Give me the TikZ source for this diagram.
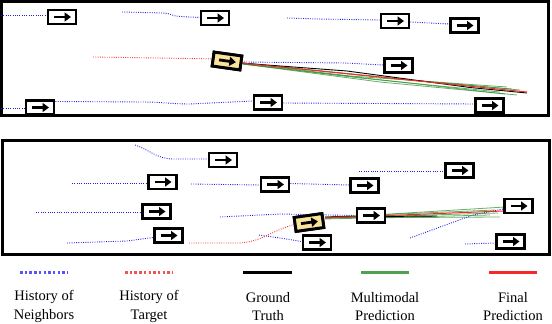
\documentclass[tikz,border=0pt]{standalone}
\usepackage{fontspec}
\setmainfont{Liberation Serif}
\usetikzlibrary{arrows.meta,calc}
\definecolor{nbblue}{RGB}{30,30,235}
\definecolor{tgred}{RGB}{240,50,50}
\definecolor{mmgreen}{RGB}{40,140,40}
\definecolor{finred}{RGB}{245,40,40}
\definecolor{carfill}{RGB}{250,226,155}
\definecolor{legblue}{RGB}{85,85,255}
\definecolor{legred}{RGB}{240,85,85}
\definecolor{leggreen}{RGB}{80,160,80}
\begin{document}
\begin{tikzpicture}[x=1pt,y=-1pt,
 panel/.style={draw,line width=3pt},
 car/.style={draw,line width=2.9pt,fill=white,minimum width=28pt,minimum height=14pt,inner sep=0pt},
 target/.style={car,fill=carfill},
 nb/.style={nbblue,line width=0.9pt,dash pattern=on 0.9pt off 1.4pt},
 tg/.style={tgred,line width=0.9pt,dash pattern=on 0.9pt off 1.4pt},
 gt/.style={black,line width=0.9pt},
 mm/.style={mmgreen,line width=0.8pt,opacity=0.7},
 fin/.style={finred,line width=1pt},
 carrow/.style={line width=2.8pt,-{Triangle[length=6.5pt,width=9pt]}},
 legnb/.style={legblue,line width=3pt,dash pattern=on 2.5pt off 2.2pt},
 legtg/.style={legred,line width=3pt,dash pattern=on 2.5pt off 2.2pt},
 leggt/.style={black,line width=3pt},
 legmm/.style={leggreen,line width=3pt},
 legfin/.style={finred,line width=3pt},
 legtext/.style={font=\fontsize{14.5}{18.5}\selectfont,align=center,inner sep=0pt}
]
\useasboundingbox (0,0) rectangle (552,324);

% ---------------- top panel ----------------
\draw[panel] (1.3,1.5) rectangle (548.5,115.5);

\node[car] (c1) at (62,17) {};
\node[car] (c2) at (215,18) {};
\node[car] (c3) at (395,21) {};
\node[car] (c4) at (464.5,25.5) {};
\node[car] (c5) at (398.5,65.5) {};
\node[car] (c6) at (40,107.5) {};
\node[car] (c7) at (268,102.5) {};
\node[car] (c8) at (489.5,105.5) {};
\node[target,rotate=-8] (t1) at (227,61) {};

\coordinate (s1) at (1,15);
\coordinate (s2) at (122,12);
\coordinate (s3) at (287,18);
\coordinate (s6) at (1,108.5);
\coordinate (st1) at (93,57);
\coordinate (e1) at (527,93);
\coordinate (f1) at (527,92);

% trajectories (cars are re-drawn on top)
\draw[nb] (s1) -- ([yshift=2pt]c1.west);
\draw[nb] (s2) -- (163,13) to[out=0,in=180] (180,16.5) -- ([yshift=0.5pt]c2.west);
\draw[nb] (s3) -- (318,19) -- ([yshift=1pt]c3.west);
\draw[nb] ([yshift=-1pt]c3.east) -- ([yshift=1.5pt]c4.west);
\draw[nb] (244,62) -- (345,63) -- ([yshift=0.5pt]c5.west);
\draw[nb] (s6) -- ([yshift=-1pt]c6.west);
\draw[nb] ([yshift=6pt]c6.east) -- (143,102) to[out=0,in=180] (190,104) -- ([yshift=1.5pt]c7.west);
\draw[nb] ([yshift=-0.5pt]c7.east) -- ([yshift=1.5pt]c8.west);
\draw[tg] (st1) -- (t1.west);

\draw[mm] (243,63) -- (350,76) -- (507,87);
\draw[mm] (243,64) -- (380,82) -- (517,95);
\draw[mm] (243,63) -- (400,79) -- (520,90);
\draw[mm] (243,64) -- (360,78) -- (500,92);
\draw[mm] (243,63) -- (420,81) -- (512,89);
\draw[mm] (243,64) -- (330,74) -- (505,94);
\draw[gt] (t1.east) -- (347,71) -- (470,87.5) -- (e1);
\draw[fin] (t1.east) -- (f1);

% ---------------- bottom panel ----------------
\draw[panel] (2.5,140) rectangle (549.5,254.5);

\node[car] (bA) at (223,160) {};
\node[car] (bB) at (162.5,182) {};
\node[car] (bC) at (275,184.5) {};
\node[car] (bD) at (156.5,211.5) {};
\node[car] (bE) at (168.5,235.5) {};
\node[car] (bF) at (364.5,185.5) {};
\node[car] (bG) at (459.5,170.5) {};
\node[car] (bH) at (371,215.5) {};
\node[car] (bI) at (317,242.5) {};
\node[car] (bJ) at (518.5,206) {};
\node[car] (bK) at (510.5,241.5) {};
\node[target,rotate=8] (t2) at (309,222.5) {};

\coordinate (sA) at (135,145);
\coordinate (sB) at (72,183);
\coordinate (sC) at (191,184);
\coordinate (sG) at (359,171);
\coordinate (sD) at (36,212);
\coordinate (sH) at (220,217);
\coordinate (sE) at (67,243);
\coordinate (sI) at (259,235);
\coordinate (sJ) at (410,238);
\coordinate (sK) at (465,244);
\coordinate (st2) at (189,243);
\coordinate (e2) at (437,216);
\coordinate (f2) at (503,211);

\draw[nb] (sA) .. controls (150,150) and (155,158) .. (172,159) -- ([yshift=1pt]bA.west);
\draw[nb] (sB) -- ([yshift=-1pt]bB.west);
\draw[nb] (sC) -- ([yshift=-0.5pt]bC.west);
\draw[nb] ([yshift=1pt]bC.east) -- ([yshift=0.5pt]bF.west);
\draw[nb] (sG) -- ([yshift=-0.5pt]bG.west);
\draw[nb] (sD) -- ([yshift=-0.5pt]bD.west);
\draw[nb] (sH) -- (280,214) -- (bH.west);
\draw[nb] (sE) -- (127,241) -- ([yshift=-2pt]bE.west);
\draw[nb] (sI) -- (280,238) -- ([yshift=1pt]bI.west);
\draw[nb] (sJ) -- (473,215) -- ([yshift=-3pt]bJ.west);
\draw[nb] (sK) -- ([yshift=-1.5pt]bK.west);
\draw[tg] (st2) -- (237,243) to[out=0,in=195] (t2.west);

\draw[mm] (325,218) -- (505,207);
\draw[mm] (325,218) -- (500,217);
\draw[mm] (325,217) -- (495,210);
\draw[mm] (325,218) -- (498,213);
\draw[mm] (325,219) -- (490,215);
\draw[gt] (325,217) -- (e2);
\draw[fin] (325,218) -- (f2);

% redraw cars on top of trajectories
\foreach \n in {c1,c2,c3,c4,c5,c6,c7,c8,bA,bB,bC,bD,bE,bF,bG,bH,bI,bJ,bK}{
  \node[car,at=(\n.center)] {};
}
\node[target,rotate=-8,at=(t1.center)] {};
\node[target,rotate=8,at=(t2.center)] {};
\foreach \n in {c1,c2,c3,c4,c5,c6,c7,c8,bA,bB,bC,bD,bE,bF,bG,bH,bI,bJ,bK,t1,t2}{
  \draw[carrow] ($(\n.center)!8pt!(\n.west)$) -- ($(\n.center)!9pt!(\n.east)$);
}

% ---------------- legend ----------------
\coordinate (l1a) at (20,272);  \coordinate (l1b) at (68,272);
\coordinate (l2a) at (125,272); \coordinate (l2b) at (173,272);
\coordinate (l3a) at (243,272); \coordinate (l3b) at (292,272);
\coordinate (l4a) at (361,272); \coordinate (l4b) at (409,272);
\coordinate (l5a) at (489,272); \coordinate (l5b) at (537,272);
\draw[legnb] (l1a) -- (l1b);
\draw[legtg] (l2a) -- (l2b);
\draw[leggt] (l3a) -- (l3b);
\draw[legmm] (l4a) -- (l4b);
\draw[legfin] (l5a) -- (l5b);

\node[legtext] (t1lab) at (44,306.5) {History of\\Neighbors};
\node[legtext] (t2lab) at (149,306.5) {History of\\Target};
\node[legtext] (t3lab) at (268,306.5) {Ground\\Truth};
\node[legtext] (t4lab) at (385,306.5) {Multimodal\\Prediction};
\node[legtext] (t5lab) at (513,306.5) {Final\\Prediction};
\end{tikzpicture}
\end{document}
